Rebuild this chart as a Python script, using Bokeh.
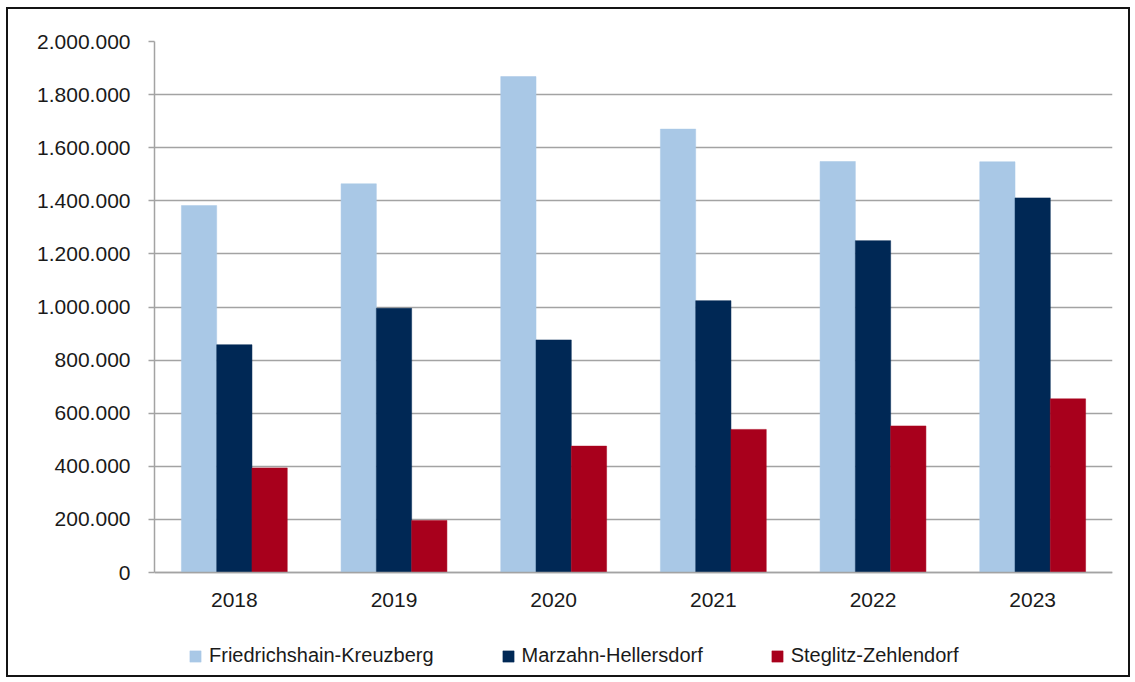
from bokeh.plotting import figure
from bokeh.models import (FactorRange, ColumnDataSource, FixedTicker, CustomJSTickFormatter,
                          Legend, LegendItem, Range1d)
from bokeh.transform import dodge
from bokeh.embed import file_html
from bokeh.resources import INLINE

years = ["2018", "2019", "2020", "2021", "2022", "2023"]
friedrichshain_kreuzberg = [1382000, 1464000, 1868000, 1670000, 1548000, 1547000]
marzahn_hellersdorf = [858000, 995000, 876000, 1024000, 1250000, 1411000]
steglitz_zehlendorf = [394000, 196000, 476000, 539000, 552000, 654000]
series_names = ["Friedrichshain-Kreuzberg", "Marzahn-Hellersdorf", "Steglitz-Zehlendorf"]
series_colors = ["#A9C8E6", "#002855", "#A8001C"]
y_ticks = [0, 200000, 400000, 600000, 800000, 1000000, 1200000, 1400000, 1600000, 1800000, 2000000]

FONT = "Liberation Sans"
TEXT = "#1a1a1a"
GRID = "#a3a3a3"

# layout (pixels)
W, H = 1124, 670
MB_TOP, MB_BOTTOM = 32, 2
AXIS_PX = 531                      # pixel height of the 0 .. 2.000.000 span
frame_h = H - MB_TOP - MB_BOTTOM
y_max = y_ticks[-1]
y_min = -y_max * (frame_h - AXIS_PX) / AXIS_PX   # room below the axis for labels and legend

source = ColumnDataSource(dict(year=years, fk=friedrichshain_kreuzberg,
                               mh=marzahn_hellersdorf, sz=steglitz_zehlendorf))

p = figure(x_range=FactorRange(*years), y_range=Range1d(y_min, y_max),
           width=W, height=H, output_backend="svg", toolbar_location=None,
           min_border_left=146, min_border_top=MB_TOP, min_border_right=20,
           min_border_bottom=MB_BOTTOM)
p.styles = {"border": "2px solid #141414", "margin-left": "6px", "margin-top": "7px"}
p.outline_line_color = None
p.background_fill_color = "white"
p.border_fill_color = "white"

bw = 0.221
renderers = []
for key, off, col in zip(["fk", "mh", "sz"], [-bw, 0, bw], series_colors):
    r = p.vbar(x=dodge("year", off, range=p.x_range), top=key, bottom=0, width=bw,
               source=source, fill_color=col, line_color=col, line_width=0.5)
    renderers.append(r)

p.xgrid.visible = False
p.ygrid.grid_line_color = GRID
p.ygrid.grid_line_width = 1.5
p.ygrid.ticker = FixedTicker(ticks=y_ticks)

p.yaxis.ticker = FixedTicker(ticks=y_ticks)
p.yaxis.bounds = (0, y_max)
p.yaxis.formatter = CustomJSTickFormatter(code="""
return Math.round(tick).toString().replace(/\\B(?=(\\d{3})+(?!\\d))/g, '.');
""")
p.yaxis.axis_line_color = GRID
p.yaxis.axis_line_width = 1.5
p.yaxis.major_tick_line_color = GRID
p.yaxis.major_tick_line_width = 1.5
p.yaxis.major_tick_out = 6
p.yaxis.major_tick_in = 0
p.yaxis.minor_tick_line_color = None
p.yaxis.major_label_standoff = 18
p.yaxis.major_label_text_font = FONT
p.yaxis.major_label_text_font_size = "21px"
p.yaxis.major_label_text_color = TEXT

p.xaxis.fixed_location = 0
p.xaxis.axis_line_color = GRID
p.xaxis.axis_line_width = 1.5
p.xaxis.major_tick_line_color = None
p.xaxis.minor_tick_line_color = None
p.xaxis.major_label_standoff = 14
p.xaxis.major_label_text_font = FONT
p.xaxis.major_label_text_font_size = "21px"
p.xaxis.major_label_text_color = TEXT

items = [LegendItem(label=n, renderers=[r]) for n, r in zip(series_names, renderers)]
legend = Legend(items=items, orientation="horizontal", location=(34, 10),
                glyph_width=14, glyph_height=14, label_standoff=7, spacing=67,
                padding=0, margin=0, border_line_color=None, background_fill_alpha=0,
                label_text_font=FONT, label_text_font_size="20px", label_text_color=TEXT)
p.add_layout(legend, "center")

open("out.html", "w").write(file_html(p, INLINE))
